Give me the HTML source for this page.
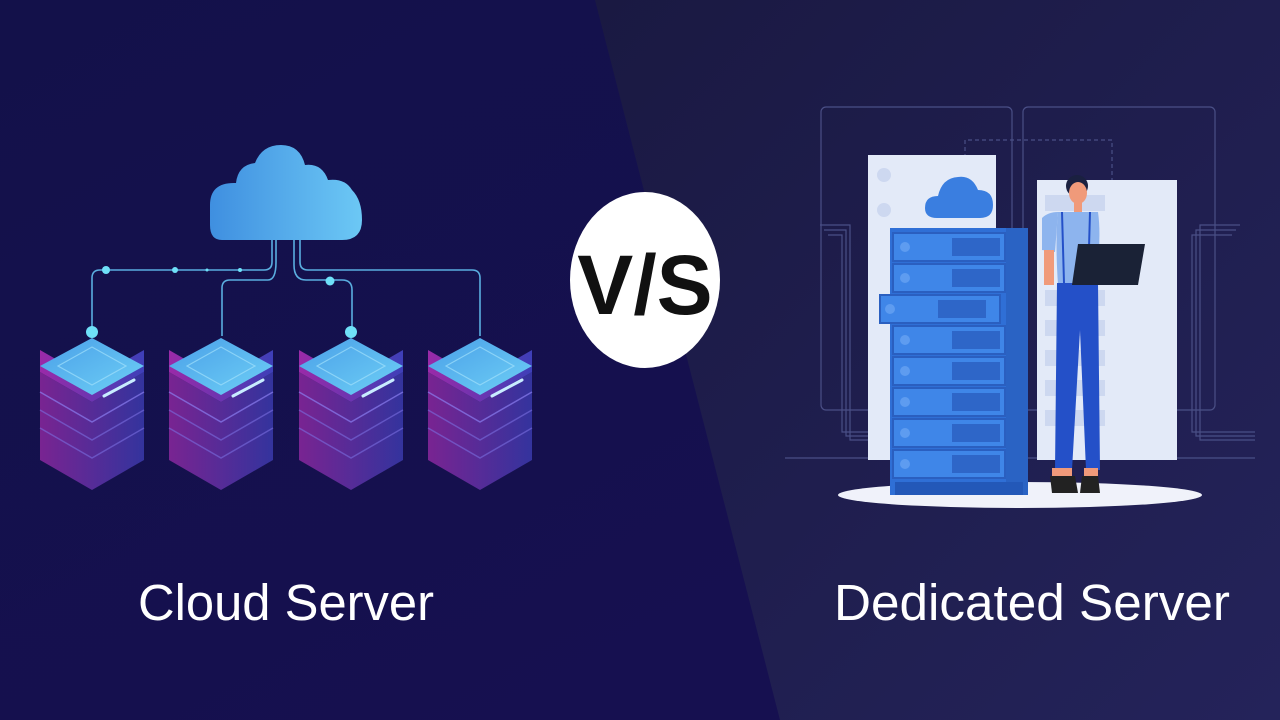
<!DOCTYPE html>
<html><head><style>
html,body{margin:0;padding:0;width:1280px;height:720px;overflow:hidden;background:#14124a}
svg{display:block}
text{font-family:"Liberation Sans",sans-serif}
</style></head><body>
<svg width="1280" height="720" viewBox="0 0 1280 720" xmlns="http://www.w3.org/2000/svg">
<defs>
<linearGradient id="lbg" x1="0" y1="0" x2="1" y2="1"><stop offset="0" stop-color="#13114a"/><stop offset="1" stop-color="#171052"/></linearGradient>
<linearGradient id="rbg" x1="0" y1="0" x2="1" y2="1"><stop offset="0" stop-color="#1a1942"/><stop offset="1" stop-color="#24235a"/></linearGradient>
<linearGradient id="cloud" x1="0" y1="0" x2="1" y2="0"><stop offset="0" stop-color="#3f8fe0"/><stop offset="1" stop-color="#6cc8f5"/></linearGradient>
<linearGradient id="side" x1="0" y1="0" x2="1" y2="0"><stop offset="0" stop-color="#9a2aa8"/><stop offset="1" stop-color="#3e3fb8"/></linearGradient>
<linearGradient id="top" x1="0" y1="0" x2="1" y2="1"><stop offset="0" stop-color="#4a9fe8"/><stop offset="1" stop-color="#6ed0f6"/></linearGradient>
<g id="stack">
  <path d="M-52,372 L0,402 L52,372 L52,460 L0,490 L-52,460Z" fill="url(#side)" opacity="0.75"/>
  <path d="M-52,428 L0,458 L52,428" fill="none" stroke="#7a6ee0" stroke-width="1.5" opacity="0.6"/>
  <path d="M-52,410 L0,440 L52,410" fill="none" stroke="#7a6ee0" stroke-width="1.5" opacity="0.6"/>
  <path d="M-52,392 L0,422 L52,392" fill="none" stroke="#8a7ef0" stroke-width="1.5" opacity="0.7"/>
  <path d="M-52,350 L0,380 L52,350 L52,372 L0,402 L-52,372Z" fill="url(#side)"/>
  <path d="M-52,366 L0,338 L52,366 L0,395Z" fill="url(#top)"/>
  <path d="M-34,366 L0,347 L34,366 L0,385Z" fill="none" stroke="#9fe0fb" stroke-width="1.2" opacity="0.7"/>
  <path d="M12,396 L42,380" stroke="#c8ecff" stroke-width="3" stroke-linecap="round"/>
</g>
</defs>
<rect width="1280" height="720" fill="url(#lbg)"/>
<path d="M595,0 L1280,0 L1280,720 L780,720Z" fill="url(#rbg)"/>

<g fill="none" stroke="#5aaee0" stroke-width="1.6">
<path d="M272,240 L272,262 Q272,270 264,270 L100,270 Q92,270 92,278 L92,330"/>
<path d="M276,240 L276,262 Q276,280 268,280 L230,280 Q222,280 222,288 L222,336"/>
<path d="M294,240 L294,265 Q294,280 306,280 L342,280 Q352,280 352,290 L352,330"/>
<path d="M300,240 L300,262 Q300,270 308,270 L472,270 Q480,270 480,278 L480,336"/>
</g>
<g fill="#6fe0f8">
<circle cx="106" cy="270" r="4"/><circle cx="175" cy="270" r="3"/><circle cx="207" cy="270" r="1.5"/><circle cx="240" cy="270" r="2"/>
<circle cx="330" cy="281" r="4.5"/><circle cx="92" cy="332" r="6"/><circle cx="351" cy="332" r="6"/>
</g>
<path d="M222,240 Q210,240 210,225 L210,205 Q210,182 236,183 Q238,165 255,163 Q262,145 281,145 Q300,145 305,165 Q322,163 328,180 Q345,178 352,190 Q362,200 362,220 Q362,240 342,240Z" fill="url(#cloud)"/>
<use href="#stack" x="92"/><use href="#stack" x="221"/><use href="#stack" x="351"/><use href="#stack" x="480"/>

<ellipse cx="645" cy="280" rx="75" ry="88" fill="#fff"/>
<text x="645" y="314" font-size="84" font-weight="bold" text-anchor="middle" fill="#111">V/S</text>

<g fill="none" stroke="#4a4f86" stroke-width="1.2">
<rect x="821" y="107" width="191" height="303" rx="5"/>
<rect x="1023" y="107" width="192" height="303" rx="5"/>
<path d="M785,458 L1255,458"/>
<path d="M820,225 L850,225 L850,440 L870,440 M824,230 L846,230 L846,436 L870,436 M828,235 L842,235 L842,432 L870,432"/>
<path d="M1240,225 L1200,225 L1200,440 L1255,440 M1236,230 L1196,230 L1196,436 L1255,436 M1232,235 L1192,235 L1192,432 L1255,432"/>
<path d="M965,165 L965,140 L1112,140 L1112,230" stroke-dasharray="4 3"/>
</g>
<rect x="868" y="155" width="128" height="305" fill="#e3eaf8"/>
<rect x="1037" y="180" width="140" height="280" fill="#e3eaf8"/>
<g fill="#cdd8f0">
<rect x="1045" y="195" width="60" height="16"/><rect x="1045" y="290" width="60" height="16"/><rect x="1045" y="320" width="60" height="16"/><rect x="1045" y="350" width="60" height="16"/><rect x="1045" y="380" width="60" height="16"/><rect x="1045" y="410" width="60" height="16"/>
<circle cx="884" cy="175" r="7"/><circle cx="884" cy="210" r="7"/>
</g>
<ellipse cx="1020" cy="495" rx="182" ry="13" fill="#f0f2fa"/>
<path d="M937,218 Q925,218 925,208 Q925,196 938,196 Q942,178 958,177 Q972,175 978,190 Q993,190 993,205 Q993,218 980,218Z" fill="#3a7ee0"/>
<rect x="890" y="228" width="138" height="267" fill="#2f6fd6"/>
<rect x="1006" y="228" width="22" height="267" fill="#2a63c4"/>
<g fill="#3f86e8" stroke="#2a5fc0" stroke-width="2">
<rect x="893" y="233" width="112" height="28"/><rect x="893" y="264" width="112" height="28"/>
<rect x="880" y="295" width="120" height="28"/><rect x="893" y="326" width="112" height="28"/>
<rect x="893" y="357" width="112" height="28"/><rect x="893" y="388" width="112" height="28"/>
<rect x="893" y="419" width="112" height="28"/><rect x="893" y="450" width="112" height="28"/>
</g>
<g fill="#2e66c8">
<rect x="952" y="238" width="48" height="18"/><rect x="952" y="269" width="48" height="18"/><rect x="938" y="300" width="48" height="18"/><rect x="952" y="331" width="48" height="18"/><rect x="952" y="362" width="48" height="18"/><rect x="952" y="393" width="48" height="18"/><rect x="952" y="424" width="48" height="18"/><rect x="952" y="455" width="48" height="18"/>
</g>
<g fill="#5e9cf0">
<circle cx="905" cy="247" r="5"/><circle cx="905" cy="278" r="5"/><circle cx="890" cy="309" r="5"/><circle cx="905" cy="340" r="5"/><circle cx="905" cy="371" r="5"/><circle cx="905" cy="402" r="5"/><circle cx="905" cy="433" r="5"/><circle cx="905" cy="464" r="5"/>
</g>
<rect x="895" y="482" width="128" height="13" fill="#2358b8"/>
<circle cx="1077" cy="186" r="11" fill="#1a2040"/>
<ellipse cx="1078" cy="193" rx="9" ry="11" fill="#f09a7a"/>
<rect x="1074" y="202" width="8" height="10" fill="#f09a7a"/>
<path d="M1058,212 L1098,212 Q1102,240 1095,285 L1058,285 Q1055,240 1058,212Z" fill="#8db4ee"/>
<path d="M1042,218 Q1048,212 1058,212 L1055,252 L1042,250Z" fill="#8db4ee"/>
<rect x="1044" y="250" width="10" height="35" fill="#f09a7a"/>
<path d="M1057,283 L1098,283 L1100,470 L1086,470 L1080,330 L1072,470 L1055,470Z" fill="#2450c8"/>
<path d="M1062,212 L1064,283 M1090,212 L1088,283" stroke="#2450c8" stroke-width="2"/>
<path d="M1078,244 L1145,244 L1138,285 L1072,285Z" fill="#1a2236"/>
<rect x="1052" y="468" width="20" height="8" fill="#f09a7a"/><rect x="1084" y="468" width="14" height="8" fill="#f09a7a"/>
<path d="M1050,476 L1075,476 L1078,493 L1052,493Z" fill="#222"/><path d="M1082,476 L1098,476 L1100,493 L1080,493Z" fill="#222"/>

<text x="286" y="620" font-size="51" fill="#fff" text-anchor="middle" textLength="296" lengthAdjust="spacingAndGlyphs">Cloud Server</text>
<text x="1032" y="620" font-size="51" fill="#fff" text-anchor="middle" textLength="396" lengthAdjust="spacingAndGlyphs">Dedicated Server</text>
</svg>
</body></html>
